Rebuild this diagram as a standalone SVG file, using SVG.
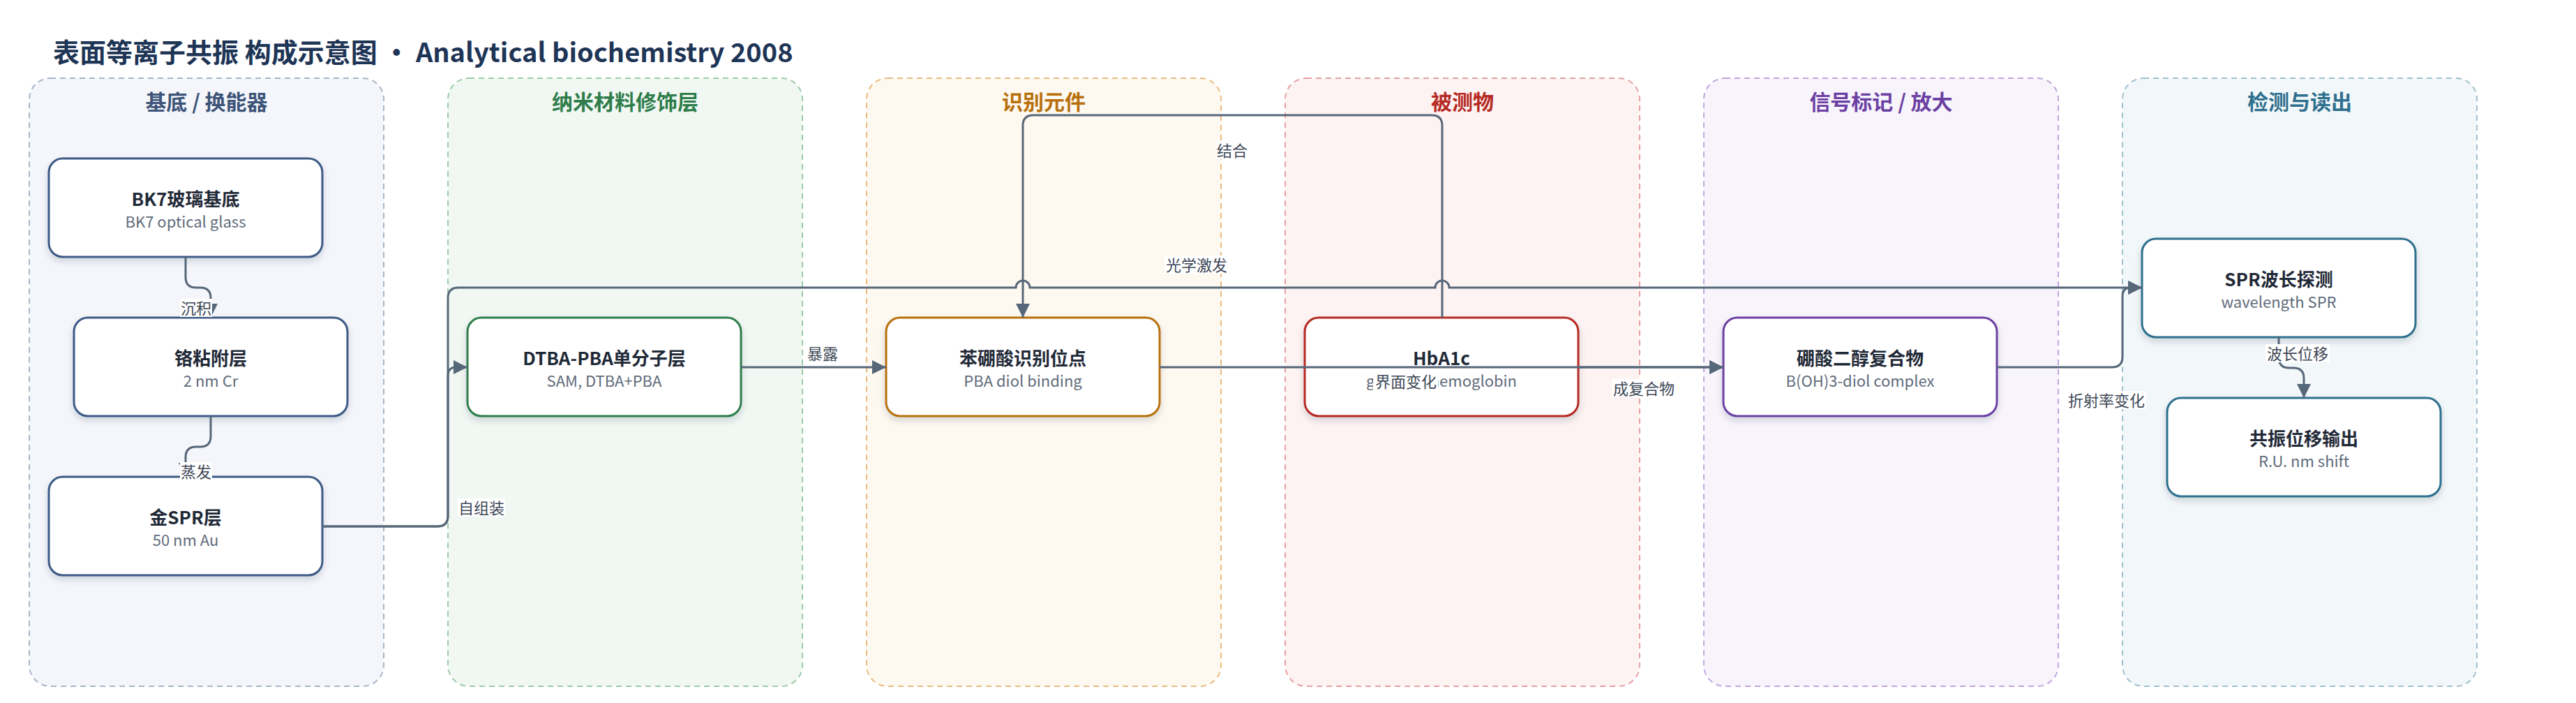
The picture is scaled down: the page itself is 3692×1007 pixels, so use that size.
<svg xmlns="http://www.w3.org/2000/svg" width="3692" height="1007" viewBox="0 0 3692 1007">
<defs>
<filter id="sh" x="-10%" y="-20%" width="120%" height="150%">
<feDropShadow dx="0" dy="5" stdDeviation="5" flood-color="#1f2a37" flood-opacity="0.16"/>
</filter>
<marker id="arr" markerUnits="userSpaceOnUse" markerWidth="20" markerHeight="20" refX="20" refY="10" orient="auto">
<path d="M0,0 L20,10 L0,20 z" fill="#566779"/>
</marker>
</defs>
<style>
text{font-family:"Noto Sans CJK SC","Noto Sans",sans-serif}
.title{font-size:38px;font-weight:700;fill:#1e3556}
.lane{stroke-width:2;stroke-dasharray:8 6}
.lt{font-size:30px;font-weight:700;text-anchor:middle}
.node{fill:#fff;stroke-width:3;filter:url(#sh)}
.nt{font-size:26px;font-weight:700;fill:#1f2937;text-anchor:middle}
.ns{font-size:22px;fill:#5f6b7a;text-anchor:middle}
.c{fill:none;stroke:#566779;stroke-width:3}
.a{marker-end:url(#arr)}
.lb{fill:#fff}
.lbt{font-size:22px;fill:#3d4756;text-anchor:middle}
</style>
<rect width="3692" height="1007" fill="#fff"/>
<text class="title" x="76" y="89">表面等离子共振 构成示意图 · Analytical biochemistry 2008</text>

<g id="lanes">
<g id="lane-substrate"><rect class="lane" x="42" y="112" width="508" height="871" rx="30" fill="#f4f6fb" stroke="#a7b5ca"/><text class="lt" x="296" y="157" fill="#3d5478">基底 / 换能器</text></g>
<g id="lane-nano"><rect class="lane" x="642" y="112" width="508" height="871" rx="30" fill="#f1f8f3" stroke="#9ccaa9"/><text class="lt" x="896" y="157" fill="#2f7d4b">纳米材料修饰层</text></g>
<g id="lane-recog"><rect class="lane" x="1242" y="112" width="508" height="871" rx="30" fill="#fef9f0" stroke="#e9bb80"/><text class="lt" x="1496" y="157" fill="#b7700d">识别元件</text></g>
<g id="lane-analyte"><rect class="lane" x="1842" y="112" width="508" height="871" rx="30" fill="#fdf3f3" stroke="#e6a0a0"/><text class="lt" x="2096" y="157" fill="#b62a23">被测物</text></g>
<g id="lane-signal"><rect class="lane" x="2442" y="112" width="508" height="871" rx="30" fill="#f7f4fc" stroke="#c0a6dc"/><text class="lt" x="2696" y="157" fill="#6c40a2">信号标记 / 放大</text></g>
<g id="lane-detect"><rect class="lane" x="3042" y="112" width="508" height="871" rx="30" fill="#f2f7f9" stroke="#9fc0cf"/><text class="lt" x="3296" y="157" fill="#2e6f8e">检测与读出</text></g>
</g>

<g id="n-bk7"><rect class="node" x="70" y="227" width="392" height="141" rx="20" stroke="#3d5a85"/><text class="nt" x="266" y="295">BK7玻璃基底</text><text class="ns" x="266" y="326">BK7 optical glass</text></g>
<g id="n-cr"><rect class="node" x="106" y="455" width="392" height="141" rx="20" stroke="#3d5a85"/><text class="nt" x="302" y="523">铬粘附层</text><text class="ns" x="302" y="554">2 nm Cr</text></g>
<g id="n-au"><rect class="node" x="70" y="683" width="392" height="141" rx="20" stroke="#3d5a85"/><text class="nt" x="266" y="751">金SPR层</text><text class="ns" x="266" y="782">50 nm Au</text></g>
<g id="n-dtba"><rect class="node" x="670" y="455" width="392" height="141" rx="20" stroke="#2f7d4b"/><text class="nt" x="866" y="523">DTBA-PBA单分子层</text><text class="ns" x="866" y="554">SAM, DTBA+PBA</text></g>
<g id="n-pba"><rect class="node" x="1270" y="455" width="392" height="141" rx="20" stroke="#b7700d"/><text class="nt" x="1466" y="523">苯硼酸识别位点</text><text class="ns" x="1466" y="554">PBA diol binding</text></g>
<g id="n-hba1c"><rect class="node" x="1870" y="455" width="392" height="141" rx="20" stroke="#b62a23"/><text class="nt" x="2066" y="523">HbA1c</text><text class="ns" x="2066" y="554">glycated hemoglobin</text></g>
<g id="n-complex"><rect class="node" x="2470" y="455" width="392" height="141" rx="20" stroke="#6c40a2"/><text class="nt" x="2666" y="523">硼酸二醇复合物</text><text class="ns" x="2666" y="554">B(OH)3-diol complex</text></g>
<g id="n-spr"><rect class="node" x="3070" y="342" width="392" height="141" rx="20" stroke="#2e6f8e"/><text class="nt" x="3266" y="410">SPR波长探测</text><text class="ns" x="3266" y="441">wavelength SPR</text></g>
<g id="n-out"><rect class="node" x="3106" y="570" width="392" height="141" rx="20" stroke="#2e6f8e"/><text class="nt" x="3302" y="638">共振位移输出</text><text class="ns" x="3302" y="669">R.U. nm shift</text></g>

<g id="connectors">
<path class="c a" d="M266,368 V397 Q266,412 281,412 H287 Q302,412 302,427 V455"/>
<path class="c a" d="M302,596 V625 Q302,640 287,640 H281 Q266,640 266,655 V683"/>
<path class="c a" d="M462,754 H627 Q642,754 642,739 V538 Q642,526 654,526 H670"/>
<path class="c a" d="M462,754 H627 Q642,754 642,739 V427 Q642,412 657,412 H1456 A10,10 0 0 1 1476,412 H2057 A10,10 0 0 1 2077,412 H3070"/>
<path class="c a" d="M1062,526 H1270"/>
<path class="c a" d="M2067,455 V180 Q2067,165 2052,165 H1481 Q1466,165 1466,180 V455"/>
<path class="c a" d="M1662,526 H2470"/>
<path class="c a" d="M2262,526 H2470"/>
<path class="c a" d="M2862,526 H3027 Q3042,526 3042,511 V424 Q3042,412 3054,412 H3070"/>
<path class="c a" d="M3266,483 V512 Q3266,527 3281,527 H3287 Q3302,527 3302,542 V570"/>
</g>

<g id="labels">
<rect class="lb" x="258" y="428" width="46" height="26"/><text class="lbt" x="281" y="450">沉积</text>
<rect class="lb" x="258" y="662" width="46" height="26"/><text class="lbt" x="281" y="684">蒸发</text>
<rect class="lb" x="656" y="714" width="68" height="26"/><text class="lbt" x="690" y="736">自组装</text>
<rect class="lb" x="1156" y="493" width="46" height="26"/><text class="lbt" x="1179" y="515">暴露</text>
<rect class="lb" x="1743" y="202" width="46" height="26"/><text class="lbt" x="1766" y="224">结合</text>
<rect class="lb" x="1669" y="366" width="92" height="26"/><text class="lbt" x="1715" y="388">光学激发</text>
<rect class="lb" x="1968" y="533" width="93" height="27"/><text class="lbt" x="2015" y="555">界面变化</text>
<rect class="lb" x="2310" y="543" width="92" height="26"/><text class="lbt" x="2356" y="565">成复合物</text>
<rect class="lb" x="2963" y="560" width="113" height="26"/><text class="lbt" x="3019" y="582">折射率变化</text>
<rect class="lb" x="3247" y="493" width="92" height="26"/><text class="lbt" x="3293" y="515">波长位移</text>
</g>
</svg>
